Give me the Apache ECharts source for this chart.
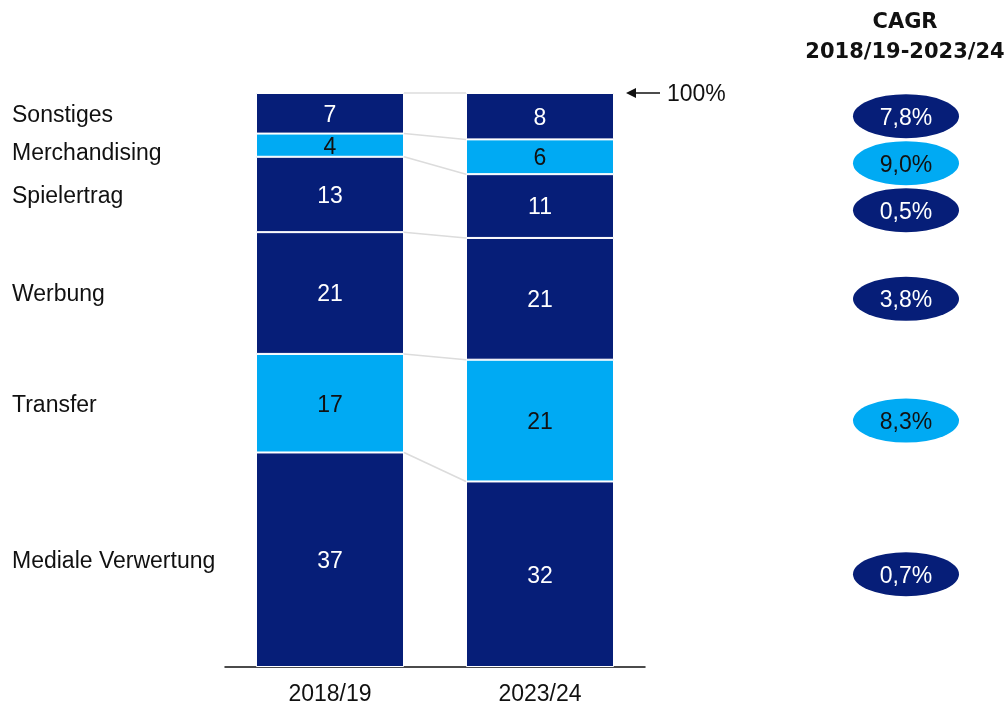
<!DOCTYPE html>
<html>
<head>
<meta charset="utf-8">
<script src="https://cdn.jsdelivr.net/npm/echarts@6/dist/echarts.min.js"></script>
<style>
  html, body { margin: 0; padding: 0; background: #ffffff; }
  #chart { width: 1008px; height: 708px; }
</style>
</head>
<body>
<div id="chart"></div>
<script>
// Revenue mix of the clubs, share in percent (bottom segment first)
const seasons = ['2018/19', '2023/24'];
const segmentNames = ['Mediale Verwertung', 'Transfer', 'Werbung', 'Spielertrag', 'Merchandising', 'Sonstiges'];
const share1819 = [37, 17, 21, 13, 4, 7];
const share2324 = [32, 21, 21, 11, 6, 8];
const cagrPct = [0.7, 8.3, 3.8, 0.5, 9.0, 7.8];
const totalLabel = '100%';
const cagrTitle = 'CAGR\n2018/19-2023/24';

// Styling
const NAVY = '#061e78';
const CYAN = '#00aaf3';
const segmentColors = [NAVY, CYAN, NAVY, NAVY, CYAN, NAVY];
const FONT = '"Liberation Sans", Arial, sans-serif';
const TITLE_FONT = '"DejaVu Sans", sans-serif';
const FS = 23;
const BAR_W = 148;

function cumulative(arr) {
  let s = 0;
  return arr.map(v => (s += v));
}
const cum1 = cumulative(share1819);
const cum2 = cumulative(share2324);
const top1 = cum1[cum1.length - 1];
const top2 = cum2[cum2.length - 1];
const mid1 = share1819.map((v, i) => cum1[i] - v / 2);
const mid2 = share2324.map((v, i) => cum2[i] - v / 2);

const textColor = c => (c === CYAN ? '#111111' : '#ffffff');
const fmtPct = v => v.toFixed(1).replace('.', ',') + '%';

// Push labels apart from the top down so they keep a minimum spacing
function spreadDown(ys, gap) {
  const order = ys.map((y, i) => i).sort((a, b) => ys[a] - ys[b]);
  const out = ys.slice();
  for (let k = 1; k < order.length; k++) {
    const prev = out[order[k - 1]];
    if (out[order[k]] < prev + gap) out[order[k]] = prev + gap;
  }
  return out;
}

const barSeries = segmentNames.map((name, i) => ({
  name: name,
  type: 'bar',
  stack: 'mix',
  barWidth: BAR_W,
  data: [share1819[i], share2324[i]],
  itemStyle: { color: segmentColors[i], borderColor: '#ffffff', borderWidth: 1 },
  label: {
    show: true,
    position: 'inside',
    offset: [0, 2],
    color: textColor(segmentColors[i]),
    fontFamily: FONT,
    fontSize: FS,
    formatter: p => String(p.value)
  },
  emphasis: { disabled: true },
  z: 3
}));

// Thin grey lines joining the segment boundaries of the two bars
const connectorSeries = {
  type: 'custom',
  silent: true,
  clip: false,
  z: 1,
  data: cum1.map((c, i) => [0, c, cum2[i]]),
  encode: { x: 0, y: 1 },
  renderItem: (params, api) => {
    const a = api.coord([0, api.value(1)]);
    const b = api.coord([1, api.value(2)]);
    return {
      type: 'line',
      shape: { x1: a[0] + BAR_W / 2, y1: a[1], x2: b[0] - BAR_W / 2, y2: b[1] },
      style: { stroke: '#dcdcdc', lineWidth: 1.5 }
    };
  }
};

// Segment names on the left, aligned to the first bar
const nameSeries = {
  type: 'custom',
  silent: true,
  clip: false,
  data: mid1.map(m => [0, m]),
  encode: { x: 0, y: 1 },
  renderItem: (params, api) => {
    const ys = spreadDown(mid1.map(m => api.coord([0, m])[1]), 38);
    return {
      type: 'text',
      x: 12,
      y: ys[params.dataIndex] + 2,
      style: {
        text: segmentNames[params.dataIndex],
        fill: '#111111',
        font: FS + 'px ' + FONT,
        align: 'left',
        verticalAlign: 'middle'
      }
    };
  }
};

// CAGR bubbles next to the second bar
const cagrSeries = {
  type: 'custom',
  silent: true,
  clip: false,
  data: mid2.map(m => [1, m]),
  encode: { x: 0, y: 1 },
  renderItem: (params, api) => {
    const ys = spreadDown(mid2.map(m => api.coord([1, m])[1]), 47);
    const i = params.dataIndex;
    const cx = 906, cy = ys[i], rx = 53, ry = 22;
    const col = segmentColors[i];
    return {
      type: 'group',
      children: [
        {
          type: 'circle',
          x: cx, y: cy,
          scaleX: rx / ry,
          shape: { cx: 0, cy: 0, r: ry },
          style: { fill: col }
        },
        {
          type: 'text',
          x: cx, y: cy + 2,
          style: {
            text: fmtPct(cagrPct[i]),
            fill: textColor(col),
            font: FS + 'px ' + FONT,
            align: 'center',
            verticalAlign: 'middle'
          }
        }
      ]
    };
  }
};

// "← 100%" marker at the top of the second bar
const totalSeries = {
  type: 'custom',
  silent: true,
  clip: false,
  data: [[1, top2]],
  encode: { x: 0, y: 1 },
  renderItem: (params, api) => {
    const p = api.coord([1, api.value(1)]);
    const tip = p[0] + BAR_W / 2 + 12;
    const y = p[1];
    return {
      type: 'group',
      children: [
        { type: 'line', shape: { x1: tip + 6, y1: y, x2: tip + 34, y2: y }, style: { stroke: '#111111', lineWidth: 1.5 } },
        { type: 'polygon', shape: { points: [[tip, y], [tip + 10, y - 5], [tip + 10, y + 5]] }, style: { fill: '#111111' } },
        {
          type: 'text', x: tip + 41, y: y + 2,
          style: { text: totalLabel, fill: '#111111', font: FS + 'px ' + FONT, align: 'left', verticalAlign: 'middle' }
        }
      ]
    };
  }
};

const chart = echarts.init(document.getElementById('chart'), null, { renderer: 'canvas' });
chart.setOption({
  animation: false,
  backgroundColor: '#ffffff',
  grid: { left: 225, right: 363, top: 93, bottom: 41 },
  xAxis: {
    type: 'category',
    data: seasons,
    axisLine: { show: true, lineStyle: { color: '#111111', width: 1.5 } },
    axisTick: { show: false },
    axisLabel: { color: '#111111', fontFamily: FONT, fontSize: FS, margin: 16 }
  },
  yAxis: {
    type: 'value',
    min: 0,
    max: Math.max(top1, top2),
    show: false,
    splitLine: { show: false }
  },
  graphic: [
    {
      type: 'text',
      x: 905,
      y: 38,
      style: {
        text: cagrTitle,
        fill: '#111111',
        font: 'bold 21px ' + TITLE_FONT,
        align: 'center',
        verticalAlign: 'middle',
        lineHeight: 30
      }
    }
  ],
  series: [connectorSeries].concat(barSeries, [nameSeries, cagrSeries, totalSeries])
});
</script>
</body>
</html>
